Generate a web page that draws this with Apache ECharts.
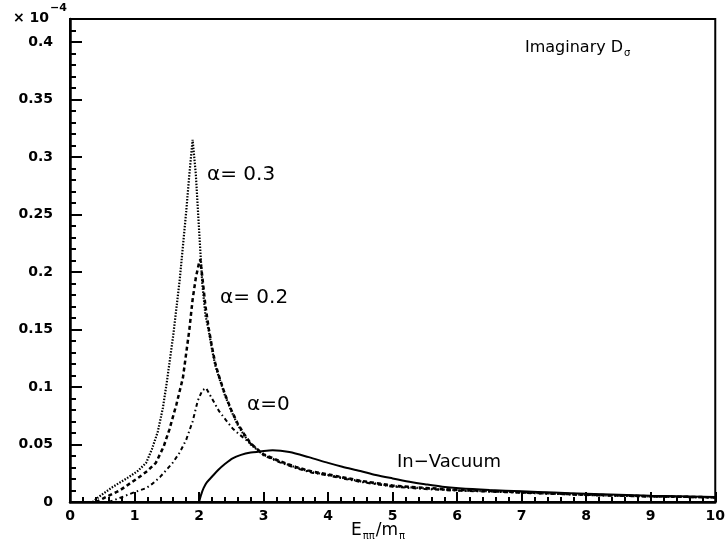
<!DOCTYPE html>
<html><head><meta charset="utf-8">
<script src="https://cdn.jsdelivr.net/npm/echarts@6/dist/echarts.min.js"></script>
<style>html,body{margin:0;padding:0;background:#fff}#c{width:728px;height:546px}</style>
</head><body><div id="c"></div>
<script>
// ---- data ----
const yTickLabels = ['0','0.05','0.1','0.15','0.2','0.25','0.3','0.35','0.4'];
const xTickLabels = ['0','1','2','3','4','5','6','7','8','9','10'];

const a03X = [0.35,0.46,0.66,0.92,1.05,1.18,1.27,1.36,1.44,1.5,1.6,1.7,1.8,1.85,1.9,1.95,2.0,2.05,2.1,2.15,2.2,2.25,2.3,2.4,2.5,2.6,2.7,2.8,2.9,3.0,3.25,3.5,3.75,4.0,4.5,5.0,5.5,6.0,6.5,7.0,8.0,9.0,10.0];
const a03Y = [0,0.005,0.013,0.022,0.027,0.034,0.046,0.061,0.082,0.104,0.145,0.193,0.252,0.285,0.315,0.285,0.237,0.190,0.162,0.149,0.133,0.119,0.110,0.093,0.079,0.067,0.058,0.050,0.0455,0.041,0.035,0.030,0.026,0.0235,0.018,0.0138,0.0118,0.0102,0.0093,0.0083,0.0062,0.0049,0.004];

const a02X = [0.4,0.51,0.77,1.08,1.2,1.33,1.45,1.54,1.65,1.75,1.85,1.9,1.95,2.0,2.02,2.05,2.1,2.15,2.2,2.25,2.3,2.4,2.5,2.6,2.7,2.8,2.9,3.0,3.25,3.5,3.75,4.0,4.5,5.0,5.5,6.0,6.5,7.0,8.0,9.0,10.0];
const a02Y = [0,0.003,0.010,0.022,0.027,0.034,0.048,0.063,0.085,0.108,0.150,0.176,0.195,0.208,0.211,0.196,0.170,0.151,0.135,0.121,0.111,0.094,0.080,0.068,0.059,0.051,0.046,0.0415,0.0355,0.0305,0.0265,0.024,0.0185,0.0143,0.0123,0.0106,0.0096,0.0086,0.0064,0.005,0.0041];

const a0X = [0.6,0.77,1.02,1.18,1.28,1.4,1.59,1.7,1.8,1.9,1.98,2.05,2.11,2.2,2.31,2.42,2.52,2.62,2.73,2.88,3.0,3.25,3.5,3.75,4.0,4.5,5.0,5.5,6.0,6.5,7.0,8.0,9.0,10.0];
const a0Y = [0,0.0035,0.009,0.012,0.016,0.022,0.034,0.043,0.054,0.070,0.088,0.097,0.099,0.090,0.079,0.071,0.064,0.059,0.054,0.047,0.0405,0.0345,0.0295,0.0255,0.023,0.0175,0.0133,0.0113,0.0098,0.009,0.008,0.006,0.0047,0.0039];

const vacX = [2.0,2.03,2.07,2.12,2.2,2.3,2.4,2.52,2.65,2.8,2.94,3.14,3.4,3.7,4.0,4.22,4.5,4.74,5.0,5.26,5.5,5.77,6.03,6.5,7.0,7.5,8.0,9.0,10.0];
const vacY = [0,0.006,0.012,0.017,0.022,0.028,0.033,0.038,0.041,0.043,0.0438,0.045,0.0435,0.039,0.034,0.0307,0.027,0.0235,0.0205,0.0177,0.0155,0.0133,0.012,0.0105,0.0093,0.0082,0.0072,0.0055,0.0043];

// ---- helpers ----
const zip = (xs, ys) => xs.map((x, i) => [x, ys[i]]);
const cv = document.createElement('canvas').getContext('2d');
function w(font, t) { cv.font = font; return cv.measureText(t).width; }
const F = '"DejaVu Sans"';
function txt(text, x, y, size, bold) {
  return { type: 'text', x: x, y: y, silent: true,
    style: { text: text, fill: '#000', font: (bold ? 'bold ' : '') + size + 'px ' + F,
      textAlign: 'left', verticalAlign: 'middle', textVerticalAlign: 'middle' } };
}

const fLab = 'bold 14px ' + F;
const graphics = [];
// x 10^-4 factor
graphics.push(txt('\u00d7 10', 13, 18, 14, true));
graphics.push(txt('\u22124', 13 + w(fLab, '\u00d7 10') + 1, 8, 11, true));
// curve labels
graphics.push(txt('\u03b1= 0.3', 207, 175, 20, false));
graphics.push(txt('\u03b1= 0.2', 220, 298, 20, false));
graphics.push(txt('\u03b1=0', 247, 405, 20, false));
graphics.push(txt('In\u2212Vacuum', 397, 462, 18, false));
// Imaginary D_sigma
const fImg = '16px ' + F;
graphics.push(txt('Imaginary D', 525, 48, 16, false));
graphics.push(txt('\u03c3', 525 + w(fImg, 'Imaginary D') + 1, 53, 10, false));
// x axis title E_pipi / m_pi
const fE = '17px ' + F, fS = '10px ' + F;
let xx = 351;
graphics.push(txt('E', xx, 531, 17, false)); xx += w(fE, 'E') + 1;
graphics.push(txt('\u03c0\u03c0', xx, 536, 10, false)); xx += w(fS, '\u03c0\u03c0') + 1;
graphics.push(txt('/m', xx, 531, 17, false)); xx += w(fE, '/m') + 1;
graphics.push(txt('\u03c0', xx, 536, 10, false));

const chart = echarts.init(document.getElementById('c'), null, { renderer: 'canvas' });
const axisFont = { fontFamily: F, fontWeight: 'bold', fontSize: 14, color: '#000' };
chart.setOption({
  animation: false,
  backgroundColor: '#fff',
  grid: { left: 70, right: 11, top: 19, bottom: 44, show: true, borderColor: '#000', borderWidth: 2, backgroundColor: 'transparent' },
  xAxis: [
    { type: 'value', min: 0, max: 10, interval: 1, position: 'bottom',
      axisLine: { show: true, lineStyle: { color: '#000', width: 2.5 } },
      axisTick: { show: true, inside: true, length: 10, lineStyle: { color: '#000', width: 2 } },
      axisLabel: Object.assign({ margin: 7, formatter: v => { const s = String(Math.round(v * 1000) / 1000); return xTickLabels.includes(s) ? s : ''; } }, axisFont),
      splitLine: { show: false } },
    { type: 'value', min: 0, max: 10, interval: 0.2, position: 'bottom',
      axisLine: { show: false }, axisLabel: { show: false }, splitLine: { show: false },
      axisTick: { show: true, inside: true, length: 5, lineStyle: { color: '#000', width: 2 } } }
  ],
  yAxis: [
    { type: 'value', min: 0, max: 0.42, interval: 0.05, position: 'left',
      axisLine: { show: true, lineStyle: { color: '#000', width: 2.5 } },
      axisTick: { show: true, inside: true, length: 12, lineStyle: { color: '#000', width: 2 } },
      axisLabel: Object.assign({ margin: 17, showMaxLabel: false, formatter: v => { const s = String(Math.round(v * 1000) / 1000); return yTickLabels.includes(s) ? s : ''; } }, axisFont),
      splitLine: { show: false } },
    { type: 'value', min: 0, max: 0.42, interval: 0.01, position: 'left',
      axisLine: { show: false }, axisLabel: { show: false }, splitLine: { show: false },
      axisTick: { show: true, inside: true, length: 6, lineStyle: { color: '#000', width: 2 } } }
  ],
  series: [
    { name: 'alpha=0.3', type: 'line', data: zip(a03X, a03Y), showSymbol: false, smooth: false,
      lineStyle: { color: '#000', width: 2.2, type: [1.5, 1.5] } },
    { name: 'alpha=0.2', type: 'line', data: zip(a02X, a02Y), showSymbol: false, smooth: false,
      lineStyle: { color: '#000', width: 2.5, type: [4, 3] } },
    { name: 'alpha=0', type: 'line', data: zip(a0X, a0Y), showSymbol: false, smooth: false,
      lineStyle: { color: '#000', width: 2, type: [4, 3, 1.5, 3] } },
    { name: 'In-Vacuum', type: 'line', data: zip(vacX, vacY), showSymbol: false, smooth: 0.3,
      lineStyle: { color: '#000', width: 2, type: 'solid' } }
  ],
  graphic: graphics
});
</script>
</body></html>
